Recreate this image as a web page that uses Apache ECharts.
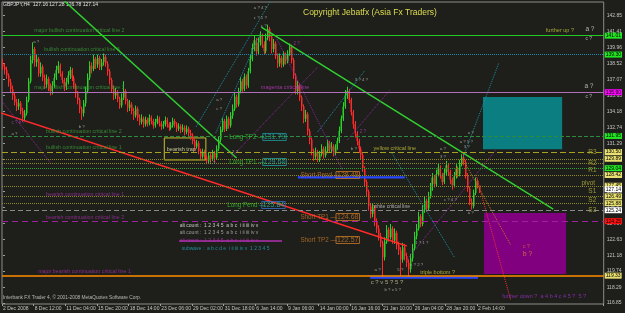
<!DOCTYPE html>
<html><head><meta charset="utf-8">
<script src="https://cdn.jsdelivr.net/npm/echarts@6/dist/echarts.min.js"></script>
<style>html,body{margin:0;padding:0;background:#1e1e1a}#c{width:625px;height:313px}</style>
</head><body><div id="c"></div>
<script>
// ---------- DATA ----------
const timeLabels = ["2 Dec 2008","8 Dec 12:00","11 Dec 04:00","15 Dec 20:00","18 Dec 14:00","23 Dec 06:00","29 Dec 02:00","31 Dec 18:00","6 Jan 14:00","9 Jan 06:00","14 Jan 00:00","16 Jan 16:00","21 Jan 10:00","26 Jan 04:00","28 Jan 20:00","2 Feb 14:00"];
const priceTicks = [116.85,118.29,119.74,121.18,122.63,124.07,125.52,126.96,128.41,129.85,131.29,132.74,134.18,135.63,137.07,138.52,139.96,141.41,142.85];
const opens = [
138.5,138.2,137.9,137.4,136.8,136.2,135.6,135.0,134.6,134.9,
134.2,133.6,134.0,135.2,136.9,138.8,139.8,138.6,138.9,137.6,
138.2,137.2,136.6,137.1,136.4,136.0,136.5,137.2,137.9,138.3,
137.6,137.0,136.4,136.8,137.4,137.9,137.2,136.5,135.8,135.2,
134.4,134.0,134.9,136.0,137.2,138.3,138.0,138.9,138.4,139.0,
138.2,138.6,139.1,138.5,137.8,137.0,136.2,135.6,135.9,135.3,
134.7,135.4,136.0,135.1,134.5,134.8,134.2,133.8,134.4,133.6,
133.2,133.5,133.0,133.4,133.1,133.6,133.3,132.9,133.2,133.5,
133.1,132.8,133.0,133.4,133.0,132.7,132.9,133.3,133.0,132.6,
132.8,132.5,132.7,132.3,132.6,132.2,132.0,131.5,131.0,131.3,
130.6,130.1,130.5,130.0,129.7,130.2,129.9,130.4,130.0,130.8,
131.6,132.5,133.3,132.6,133.5,132.9,133.8,134.4,135.5,134.8,
136.0,136.9,136.2,137.3,136.5,137.8,138.9,139.9,140.6,139.6,
140.4,141.0,140.2,139.6,140.8,141.6,140.9,139.8,140.3,139.2,
138.5,139.0,138.4,139.3,138.7,139.4,140.0,138.8,137.4,136.0,
136.5,135.4,134.6,133.5,133.9,132.4,131.6,130.6,130.1,130.5,
129.9,130.3,130.8,130.2,130.6,131.3,130.7,131.0,130.4,130.9,
131.5,132.4,133.5,134.6,135.6,136.0,135.2,134.1,133.0,132.2,
131.5,130.8,130.2,129.0,127.8,126.9,125.6,124.9,125.5,124.2,
123.6,122.9,122.3,121.0,122.4,123.5,122.8,123.6,122.5,123.2,
122.1,121.6,120.8,121.9,121.1,120.5,119.9,120.9,121.8,122.9,
123.6,124.7,124.0,125.3,126.1,125.4,126.5,127.3,128.2,127.6,
128.5,129.1,128.4,127.8,128.6,129.3,128.7,128.0,127.5,128.3,
129.0,128.5,129.4,130.0,129.6,128.4,127.2,126.0,125.6,126.8,
127.9,127.5];
const closes = [
138.2,137.9,137.4,136.8,136.2,135.6,135.0,134.6,134.9,134.2,
133.6,134.0,135.2,136.9,138.8,139.8,138.6,138.9,137.6,138.2,
137.2,136.6,137.1,136.4,136.0,136.5,137.2,137.9,138.3,137.6,
137.0,136.4,136.8,137.4,137.9,137.2,136.5,135.8,135.2,134.4,
134.0,134.9,136.0,137.2,138.3,138.0,138.9,138.4,139.0,138.2,
138.6,139.1,138.5,137.8,137.0,136.2,135.6,135.9,135.3,134.7,
135.4,136.0,135.1,134.5,134.8,134.2,133.8,134.4,133.6,133.2,
133.5,133.0,133.4,133.1,133.6,133.3,132.9,133.2,133.5,133.1,
132.8,133.0,133.4,133.0,132.7,132.9,133.3,133.0,132.6,132.8,
132.5,132.7,132.3,132.6,132.2,132.0,131.5,131.0,131.3,130.6,
130.1,130.5,130.0,129.7,130.2,129.9,130.4,130.0,130.8,131.6,
132.5,133.3,132.6,133.5,132.9,133.8,134.4,135.5,134.8,136.0,
136.9,136.2,137.3,136.5,137.8,138.9,139.9,140.6,139.6,140.4,
141.0,140.2,139.6,140.8,141.6,140.9,139.8,140.3,139.2,138.5,
139.0,138.4,139.3,138.7,139.4,140.0,138.8,137.4,136.0,136.5,
135.4,134.6,133.5,133.9,132.4,131.6,130.6,130.1,130.5,129.9,
130.3,130.8,130.2,130.6,131.3,130.7,131.0,130.4,130.9,131.5,
132.4,133.5,134.6,135.6,136.0,135.2,134.1,133.0,132.2,131.5,
130.8,130.2,129.0,127.8,126.9,125.6,124.9,125.5,124.2,123.6,
122.9,122.3,121.0,122.4,123.5,122.8,123.6,122.5,123.2,122.1,
121.6,120.8,121.9,121.1,120.5,119.9,120.9,121.8,122.9,123.6,
124.7,124.0,125.3,126.1,125.4,126.5,127.3,128.2,127.6,128.5,
129.1,128.4,127.8,128.6,129.3,128.7,128.0,127.5,128.3,129.0,
128.5,129.4,130.0,129.6,128.4,127.2,126.0,125.6,126.8,127.9,
127.5,127.14];
const highs = [
138.9,138.5,138.2,137.6,137.1,136.5,135.9,135.3,135.3,135.1,
134.5,134.3,135.5,137.2,139.2,140.4,140.0,139.3,139.1,138.6,
138.4,137.5,137.5,137.3,136.7,136.9,137.6,138.3,138.7,138.5,
137.8,137.2,137.2,137.8,138.2,138.1,137.4,136.7,136.0,135.4,
134.6,135.2,136.4,137.6,138.7,138.6,139.3,139.1,139.3,139.2,
138.9,139.4,139.3,138.7,138.0,137.2,136.5,136.3,136.1,135.5,
135.8,136.9,136.2,135.3,135.2,135.0,134.5,134.7,134.6,133.9,
133.9,133.7,133.7,133.6,133.9,133.8,133.5,133.5,133.8,133.7,
133.3,133.3,133.7,133.6,133.2,133.2,133.6,133.5,133.2,133.1,
133.0,133.0,132.9,132.9,132.8,132.5,132.2,131.7,131.6,131.5,
130.8,130.8,130.7,130.2,130.5,130.4,130.7,130.6,131.1,131.9,
132.8,133.6,133.5,133.8,133.7,134.1,134.8,135.9,135.7,136.3,
137.3,137.1,137.6,137.5,138.1,139.3,140.3,141.0,140.8,140.8,
141.4,141.2,140.5,141.2,142.0,141.8,141.1,140.7,140.5,139.4,
139.4,139.2,139.6,139.5,139.7,140.3,140.2,139.0,137.6,136.9,
136.7,135.6,134.8,134.3,134.1,132.6,131.8,130.8,130.9,130.7,
130.6,131.2,131.0,131.0,131.6,131.5,131.4,131.2,131.2,131.8,
132.8,133.8,135.0,136.1,136.4,136.2,135.4,134.3,133.3,132.4,
131.7,131.0,130.4,129.2,128.0,127.1,125.9,125.9,125.7,124.5,
123.9,123.2,122.5,122.8,123.9,123.7,124.0,123.8,123.6,123.4,
122.4,121.9,122.3,122.2,121.4,120.8,121.3,122.2,123.3,124.0,
125.1,124.9,125.7,126.5,126.3,126.9,127.7,128.6,128.4,128.9,
129.5,129.3,128.6,129.0,129.7,129.5,128.9,128.2,128.7,129.4,
129.2,129.8,130.3,130.3,129.8,128.6,127.4,126.3,127.1,128.2,
128.1,127.28];
const lows = [
137.9,137.5,137.1,136.4,135.9,135.2,134.7,134.2,134.3,133.9,
133.2,133.3,133.8,135.0,136.7,138.5,138.2,138.2,137.3,137.3,
136.9,136.2,136.3,136.0,135.6,135.7,136.3,137.0,137.6,137.3,
136.7,136.0,136.1,136.6,137.1,136.9,136.2,135.4,134.8,134.0,
133.4,133.7,134.6,135.8,137.0,137.6,137.8,138.0,138.1,137.9,
137.9,138.3,138.2,137.4,136.6,135.9,135.2,135.3,135.0,134.4,
134.5,135.2,134.8,134.1,134.2,133.9,133.4,133.6,133.3,132.9,
133.0,132.7,132.8,132.8,132.9,133.0,132.6,132.7,133.0,132.8,
132.5,132.6,132.8,132.7,132.4,132.5,132.7,132.7,132.3,132.4,
132.2,132.3,132.0,132.1,131.9,131.6,131.2,130.6,130.8,130.3,
129.8,129.9,129.7,129.4,129.5,129.6,129.7,129.6,129.8,130.6,
131.4,132.3,132.3,132.4,132.6,132.7,133.5,134.2,134.5,134.6,
135.8,135.9,136.0,136.2,136.3,137.6,138.7,139.6,139.2,139.3,
140.1,139.9,139.3,139.4,140.6,140.5,139.4,139.5,138.9,138.1,
138.2,138.1,138.2,138.4,138.5,139.2,138.5,137.1,135.7,135.7,
135.1,134.2,133.1,133.2,132.0,131.2,130.2,129.7,129.8,129.6,
129.6,130.1,129.9,130.0,130.4,130.4,130.4,130.1,130.2,130.7,
131.3,132.2,133.3,134.4,135.3,134.9,133.8,132.6,131.8,131.1,
130.4,129.8,128.7,127.4,126.5,125.2,124.5,124.6,123.8,123.2,
122.5,121.9,119.2,120.7,122.2,122.4,122.6,122.2,122.2,121.7,
121.2,119.3,120.5,120.7,120.1,119.2,119.6,120.6,121.6,122.6,
123.4,123.7,123.8,125.0,125.1,125.2,126.3,127.0,127.3,127.4,
128.3,128.1,127.5,127.6,128.4,128.4,127.6,127.1,127.3,128.1,
128.2,128.3,129.2,129.3,128.1,126.9,125.7,125.3,125.4,126.6,
127.2,126.79];
// horizontal levels (price) and their right-axis tags
const levels = [141.01,139.30,135.90,131.95,130.50,129.89,129.48,129.04,128.42,127.45,127.14,126.49,125.88,125.24,124.25,119.33];
// [x(bar index), price, text, styleKey]
const annotations = [
 [15.5,141.43,"major bullish continuation critical line 2","g"],
 [20.5,139.72,"bullish continuation critical line 3","g"],
 [15.5,136.28,"major bullish continuation critical line 1","g"],
 [21.5,132.31,"bullish continuation critical line 2","g"],
 [21.5,130.86,"bullish continuation critical line 1","g"],
 [21.5,126.62,"bearish continuation critical line 1","m"],
 [21.5,124.54,"bearish continuation critical line 2","m"],
 [17.5,119.66,"major bearish continuation critical line 1","m"],
 [130,136.37,"magenta critical line","mc"],
 [187,130.86,"yellow critical line","y"],
 [187,125.53,"white critical line","w"],
 [210.5,119.66,"triple bottom ?","y"],
 [274,141.52,"further up ?","y"],
 [294,141.61,"a ?","w6"],
 [294,140.71,"c ?","w"],
 [293.5,136.46,"a ?","w6"],
 [294,135.47,"c ?","w"],
 [252,117.49,"further down ?  a 4 b 4 c 4 5 ?  5 ?","fd"],
 [82.5,130.77,"bearish trap","bt"],
 [114,131.86,"Long TP2 —","lg"],
 [131,131.86,"131.79","lbox"],
 [114,129.60,"Long TP1 —","lg"],
 [131,129.60,"129.64","lbox"],
 [113,125.71,"Long Pend —","lg"],
 [130.5,125.71,"125.84","lpbox"],
 [150,128.42,"Short Pend —","st"],
 [168,128.42,"128.48","sbox"],
 [150,124.63,"Short TP1 —","st"],
 [168,124.63,"124.68","sbox"],
 [150,122.55,"Short TP2 —","st"],
 [168,122.55,"122.57","sbox"],
 [295.5,130.50,"R3","piv"],
 [295.5,129.51,"R2","piv"],
 [295.5,128.87,"R1","piv"],
 [292,127.70,"pivot","piv"],
 [295.5,126.98,"S1","piv"],
 [295.5,126.17,"S2","piv"],
 [295.5,125.26,"S3","piv"],
 [89,123.82,"alt count :  1 2 3 4 5  a b c  i ii iii iv v","alt1"],
 [89,123.18,"alt count :  1 2 3 4 5  a b c  i ii iii iv v","alt2"],
 [89,122.46,"alt count :  1 2 3 4 5  a b c  i ii iii iv v","alt3"],
 [90,121.74,"subwave :  a b c d e  i ii iii iv v  1 2 3 4 5","sub"],
 [15,140.44,"a ?","wv"],
 [4,133.12,"c ? b ?","pv"],
 [4,132.13,"a ?","wv"],
 [38,132.76,"b ?","wv"],
 [107.5,135.20,"a ?","wv"],
 [107.5,134.39,"c ?","wv"],
 [126.5,143.51,"a ? 4 ?","wv"],
 [126.5,142.61,"c ? 1 ?","wv"],
 [130,141.88,"c ?","wv"],
 [146.5,140.26,"2 ?","pv"],
 [104,129.51,"1 ?","wv"],
 [115.5,130.5,"2 ?","wv"],
 [177.5,137.0,"3 ? 4 ?","wv"],
 [180,132.31,"2 ?","pv"],
 [175.5,130.77,"b ?","wv"],
 [220.5,130.77,"a ?","wv"],
 [220.5,130.05,"3 ?","wv"],
 [234.5,132.22,"a ?","wv"],
 [230.5,131.4,"a ? 5 ?","wv"],
 [232.5,130.95,"3 ?","wv"],
 [222.5,126.17,"c ? 4 ?","wv"],
 [234.5,124.99,"a ?","wv"],
 [187.5,119.84,"a ?","wv"],
 [185.5,118.76,"c ? v 5 ? 5 ?","wv6"],
 [192.5,118.03,"b ? v 5 ?","wv"],
 [199,119.84,"5 ?","wv"],
 [205.5,120.29,"c ? 2 ?","wv"],
 [208,122.28,"1 ? 1 ?","wv"],
 [262.5,121.92,"c ?","o"],
 [262.5,121.29,"b ?","ob"]
];
// trend lines [x1, p1, x2, p2, styleKey]
const segments = [
 [30.5,144.23,118,129.96,"green"],
 [130.5,141.79,278,125.35,"green"],
 [-1,134.02,204,122.01,"red"],
 [185.5,119.15,240,119.15,"blue"],
 [149,128.2,203,128.2,"blue"],
 [89,122.46,141,122.46,"strike"],
 [-1,135.20,24,129.51,"pdot"],
 [97.5,132.76,135.5,144.23,"tdot"],
 [107.5,132.22,130,141.25,"tdot"],
 [115.5,130.05,159,138.18,"pdot"],
 [137.5,141.04,171.5,128.87,"pdot"],
 [232.5,130.05,250.5,138.54,"tdot"],
 [234,129.33,256.5,122.10,"odot"],
 [239,128.42,256.5,117.13,"rdot"],
 [196.5,130.4,228,121.0,"tdot"],
 [204,120.74,249,130.68,"pdot"],
 [174,131.59,195.5,136.10,"pdot"],
 [159,132.31,183,137.9,"tdot"]
];
// zones [x1, p1, x2, p2, styleKey]
const zones = [
 [242.5,135.46,282.5,130.76,"teal"],
 [243,124.99,284.5,119.48,"purple"],
 [81.5,131.77,102.5,129.78,"trap"]
];
const SLOTS = 304;

// ---------- STYLES ----------
const FONT = 'Liberation Sans';
const BULL = '#2ad22a', BEAR = '#ff2a2a';
const levelStyles = [
 {c:'#22cc22',t:'solid',w:1,bg:'#22e622'},
 {c:'#1e88a8',t:'dotted',w:1,bg:'#22e622'},
 {c:'#b070b8',t:'solid',w:1,bg:'#ff00ff'},
 {c:'#2e8b3e',t:'dashed',w:1,bg:'#22e622'},
 {c:'#a8a020',t:[6,3],w:1,bg:'#e8e070'},
 {c:'#8c8a20',t:'dotted',w:1,bg:'#e8e070'},
 {c:'#8c8a20',t:'dotted',w:1,bg:null},
 {c:'#30a030',t:'dotted',w:1,bg:'#22e622'},
 {c:'#8c8a20',t:'dotted',w:1,bg:'#e8e070'},
 {c:'#8c8a20',t:'dotted',w:1,bg:'#e8e070'},
 {c:'rgba(0,0,0,0)',t:'solid',w:1,bg:'#ffffff'},
 {c:'#8c8a20',t:'dotted',w:1,bg:'#e8e070'},
 {c:'#8c8a20',t:'dotted',w:1,bg:'#e8e070'},
 {c:'#8a8a8a',t:[5,3],w:1,bg:'#ffffff'},
 {c:'#a020a0',t:[6,4],w:1,bg:'#ff1010'},
 {c:'#ff8c00',t:'solid',w:1.5,bg:'#e8e070'}
];
const textStyles = {
 g:{color:'#3ca03c',fontSize:5.3}, m:{color:'#a232a8',fontSize:5.3}, mc:{color:'#c23cc8',fontSize:5.5},
 y:{color:'#c8c83c',fontSize:5.5}, w:{color:'#d0d0d0',fontSize:5}, w6:{color:'#d8d8d8',fontSize:6.5},
 wv:{color:'#bcbcbc',fontSize:4.3}, wv6:{color:'#c8c8a0',fontSize:6}, pv:{color:'#a040b0',fontSize:4.5},
 o:{color:'#d08030',fontSize:5}, ob:{color:'#e09030',fontSize:6.5}, piv:{color:'#b8b840',fontSize:6.5},
 lg:{color:'#32c832',fontSize:6.3}, st:{color:'#c8782a',fontSize:6.3},
 lbox:{color:'#20b0b0',fontSize:7,borderColor:'#20a0a0',borderWidth:1,padding:[0,1]},
 lpbox:{color:'#2eb8b8',fontSize:7,borderColor:'#3a70d0',borderWidth:1,padding:[0,1]},
 sbox:{color:'#c8782a',fontSize:7,borderColor:'#c8782a',borderWidth:1,padding:[0,1]},
 alt1:{color:'#e8e8e8',fontSize:5}, alt2:{color:'#bcbcbc',fontSize:5}, alt3:{color:'#b030b0',fontSize:5},
 sub:{color:'#20a8b8',fontSize:5}, fd:{color:'#9a32c8',fontSize:5.5}, bt:{color:'#e8e8b0',fontSize:5.5}
};
const segStyles = {
 green:{color:'#30d030',width:1.5,type:'solid'}, red:{color:'#ff2a2a',width:1.5,type:'solid'},
 blue:{color:'#2848ff',width:2.2,type:'solid'}, strike:{color:'#b030b0',width:1.5,type:'solid'},
 pdot:{color:'#8a2a9a',width:1,type:'dotted'}, tdot:{color:'#1a8fa0',width:1,type:'dotted'},
 odot:{color:'#c87820',width:1,type:'dotted'}, rdot:{color:'#ff3030',width:1,type:'dotted'}
};
const zoneStyles = {
 teal:{color:'#0a7e80'}, purple:{color:'#800080'},
 trap:{color:'rgba(0,0,0,0)',borderColor:'#c8c028',borderWidth:1}
};

// ---------- BUILD ----------
const slots = Array.from({length:SLOTS},(_,i)=>String(i));
const candles = opens.map((o,i)=>[o,closes[i],lows[i],highs[i]]);
const isTick = (i)=> i%16===0 && (i/16)<timeLabels.length;

const series = [{
  // wicks (thin strokes)
  type:'candlestick', xAxisIndex:0, yAxisIndex:0, data:candles, barWidth:0.01,
  itemStyle:{color:BULL,color0:BEAR,borderColor:BULL,borderColor0:BEAR,borderWidth:1},
  silent:true, z:3
},{
  // bodies (filled, no stroke)
  type:'candlestick', xAxisIndex:0, yAxisIndex:0, data:candles, barWidth:1.5,
  itemStyle:{color:BULL,color0:BEAR,borderColor:'rgba(0,0,0,0)',borderColor0:'rgba(0,0,0,0)',borderWidth:0},
  silent:true, z:3
}];
segments.forEach((s,k)=>{
  const st = segStyles[s[4]];
  const ser = {type:'line', xAxisIndex:1, yAxisIndex:0, data:[[s[0],s[1]],[s[2],s[3]]], symbol:'none',
    lineStyle:{color:st.color,width:st.width,type:st.type}, silent:true, z:4, clip:true};
  if(k===0){
    ser.markArea = {silent:true, data: zones.map(z=>[{coord:[z[0],z[1]],itemStyle:zoneStyles[z[4]]},{coord:[z[2],z[3]]}])};
    ser.markLine = {silent:true, symbol:'none', animation:false,
      data: levels.map((v,i)=>{
        const ls = levelStyles[i];
        return {yAxis:v, lineStyle:{color:ls.c,type:ls.t,width:ls.w},
          label: ls.bg ? {show:true, position:'end', distance:1, formatter:v.toFixed(2), color:'#000', backgroundColor:ls.bg,
            fontSize:5, fontFamily:FONT, padding:[1,1,0,1]} : {show:false}};
      })};
  }
  series.push(ser);
});
series.push({
  type:'scatter', xAxisIndex:1, yAxisIndex:0, symbolSize:1, silent:true, z:6,
  itemStyle:{color:'rgba(0,0,0,0)'},
  data: annotations.map(a=>({name:a[2], value:[a[0],a[1]],
    label:Object.assign({show:true, position:'right', distance:0, fontFamily:FONT, formatter:'{b}'}, textStyles[a[3]])}))
});

const chart = echarts.init(document.getElementById('c'), null, {renderer:'canvas'});
chart.setOption({
  animation:false,
  backgroundColor:'#1e1e1a',
  grid:{left:1, right:19, top:2, bottom:9, show:true, borderColor:'#8c8c8c', borderWidth:1, backgroundColor:'transparent'},
  xAxis:[{
    type:'category', data:slots, boundaryGap:true,
    axisLine:{show:false},
    axisTick:{show:true, interval:isTick, length:2, lineStyle:{color:'#a0a0a0'}},
    axisLabel:{show:true, interval:isTick, formatter:(v,i)=>timeLabels[i/16]||'', align:'left', fontSize:5, fontFamily:FONT, color:'#c4c4c4', margin:2},
    splitLine:{show:false}
  },{
    type:'value', min:-0.5, max:SLOTS-0.5, show:false
  }],
  yAxis:[{
    type:'value', position:'right', min:116.77, max:144.05, scale:true,
    axisLine:{show:false}, splitLine:{show:false},
    axisTick:{show:true, customValues:priceTicks, length:2, lineStyle:{color:'#a0a0a0'}},
    axisLabel:{show:true, customValues:priceTicks, formatter:(v)=>Number(v).toFixed(2), fontSize:5, fontFamily:FONT, color:'#c4c4c4', margin:3}
  }],
  graphic:[
    {type:'text', left:3, top:2, style:{text:'GBPJPY,H4  127.16 127.28 126.78 127.14', fill:'#e0e0e0', fontSize:5, fontFamily:FONT}},
    {type:'text', left:303, top:8, style:{text:'Copyright Jebatfx (Asia Fx Traders)', fill:'#dede50', fontSize:8.5, fontFamily:FONT}},
    {type:'text', left:3, top:295, style:{text:'Interbank FX Trader 4, © 2001-2008 MetaQuotes Software Corp.', fill:'#b8b8b8', fontSize:4.8, fontFamily:FONT}}
  ],
  series
});
</script></body></html>
